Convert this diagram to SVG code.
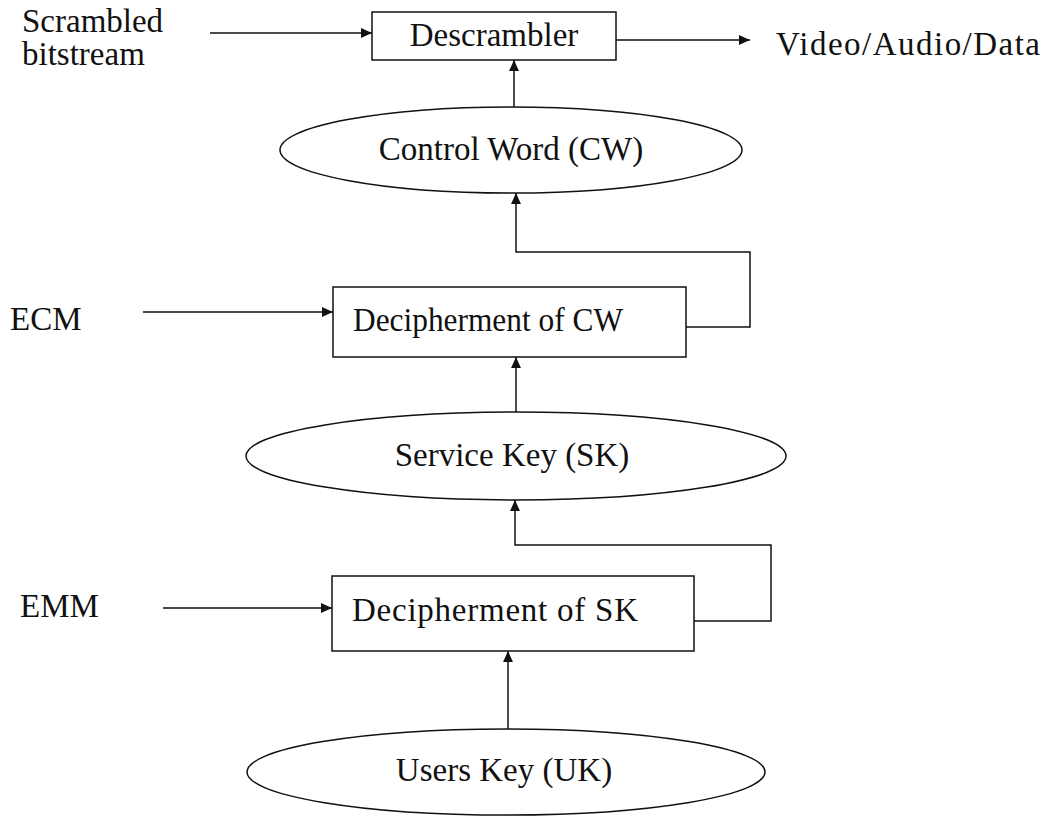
<svg xmlns="http://www.w3.org/2000/svg" width="1052" height="817" viewBox="0 0 1052 817">
  <style>
    .lbl { font-family: "Liberation Serif", "Times New Roman", serif; font-size: 33px; fill: #111; }
    .mid { text-anchor: middle; }
    .shape { fill: none; stroke: #111; stroke-width: 1.5; }
    .wire { fill: none; stroke: #111; stroke-width: 1.5; }
  </style>
  <defs>
    <marker id="arrow" viewBox="0 0 10 10" refX="10" refY="5" markerWidth="11" markerHeight="11" markerUnits="userSpaceOnUse" orient="auto">
      <path d="M0,0.5 L10,5 L0,9.5 z" fill="#111"/>
    </marker>
  </defs>
  <rect width="1052" height="817" fill="#fff"/>

  <!-- free-standing labels -->
  <g id="input-labels">
    <text class="lbl" x="22" y="32">Scrambled</text>
    <text class="lbl" x="22" y="65">bitstream</text>
    <text class="lbl" x="10" y="330">ECM</text>
    <text class="lbl" x="20" y="617">EMM</text>
    <text class="lbl" x="776" y="55" textLength="264" lengthAdjust="spacing">Video/Audio/Data</text>
  </g>

  <g id="descrambler">
    <rect class="shape" x="372" y="12" width="244" height="48"/>
    <text class="lbl mid" x="494" y="46">Descrambler</text>
  </g>

  <g id="control-word">
    <ellipse class="shape" cx="511" cy="150" rx="231" ry="43"/>
    <text class="lbl mid" x="511" y="160">Control Word (CW)</text>
  </g>

  <g id="decipher-cw">
    <rect class="shape" x="333" y="287" width="353" height="70"/>
    <text class="lbl" x="353" y="331" textLength="270" lengthAdjust="spacingAndGlyphs">Decipherment of CW</text>
  </g>

  <g id="service-key">
    <ellipse class="shape" cx="516" cy="456" rx="270" ry="44"/>
    <text class="lbl mid" x="512" y="466">Service Key (SK)</text>
  </g>

  <g id="decipher-sk">
    <rect class="shape" x="332" y="576" width="362" height="75"/>
    <text class="lbl" x="352" y="621" textLength="286" lengthAdjust="spacing">Decipherment of SK</text>
  </g>

  <g id="users-key">
    <ellipse class="shape" cx="506" cy="772" rx="259" ry="43"/>
    <text class="lbl mid" x="504" y="781">Users Key (UK)</text>
  </g>

  <g id="connectors">
    <line class="wire" x1="210" y1="33" x2="372" y2="33" marker-end="url(#arrow)"/>
    <line class="wire" x1="616" y1="40" x2="750" y2="40" marker-end="url(#arrow)"/>
    <line class="wire" x1="514" y1="107" x2="514" y2="60" marker-end="url(#arrow)"/>
    <line class="wire" x1="143" y1="312" x2="333" y2="312" marker-end="url(#arrow)"/>
    <polyline class="wire" points="686,327 750,327 750,252 516,252 516,193" marker-end="url(#arrow)"/>
    <line class="wire" x1="516" y1="412" x2="516" y2="357" marker-end="url(#arrow)"/>
    <line class="wire" x1="163" y1="608" x2="332" y2="608" marker-end="url(#arrow)"/>
    <polyline class="wire" points="694,621 771,621 771,545 515,545 515,500" marker-end="url(#arrow)"/>
    <line class="wire" x1="508" y1="729" x2="508" y2="651" marker-end="url(#arrow)"/>
  </g>
</svg>
